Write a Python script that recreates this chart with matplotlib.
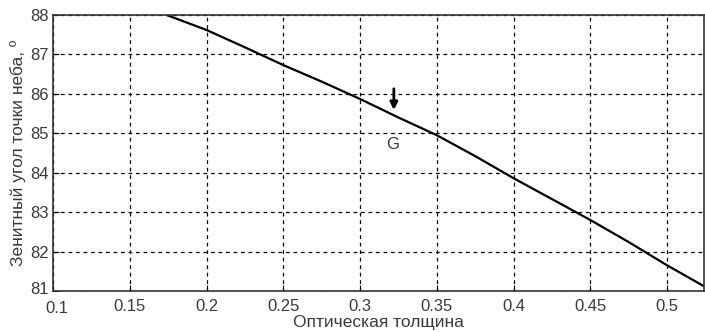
import matplotlib
matplotlib.use("Agg")
import matplotlib.pyplot as plt
import matplotlib.transforms as mtransforms
import numpy as np

plt.rcParams['font.family'] = ['Liberation Sans', 'DejaVu Sans']

# data
tau = [0.174, 0.2, 0.225, 0.25, 0.275, 0.3, 0.325, 0.35, 0.375, 0.4, 0.425, 0.45, 0.475, 0.5, 0.524]
zenith = [88.0, 87.62, 87.18, 86.73, 86.31, 85.87, 85.40, 84.95, 84.42, 83.86, 83.33, 82.80, 82.24, 81.65, 81.12]

xticks = [0.1, 0.15, 0.2, 0.25, 0.3, 0.35, 0.4, 0.45, 0.5]
xticklabels = ['0.1', '0.15', '0.2', '0.25', '0.3', '0.35', '0.4', '0.45', '0.5']
yticks = [81, 82, 83, 84, 85, 86, 87, 88]

fig = plt.figure(figsize=(7.05, 3.32), dpi=100)
ax = fig.add_axes([0.0752, 0.1235, 0.9234, 0.8313])
ax.plot(tau, zenith, color='black', lw=1.6)

ax.set_xlim(0.1, 0.524)
ax.set_ylim(81, 88)
ax.set_xticks(xticks)
ax.set_xticklabels(xticklabels)
ax.set_yticks(yticks)
ax.tick_params(direction='in', labelsize=12, length=4, color='black', labelcolor='#3a3a3a')
ax.tick_params(axis='x', pad=6)
ax.tick_params(axis='y', pad=3)
ax.grid(True, color='black', linestyle=(0, (3, 3)), lw=0.9)
for s in ax.spines.values():
    s.set_color('#333333')
    s.set_linewidth(1.2)

# MATLAB-like quirks for corner labels
lbl0 = ax.get_xticklabels()[0]
lbl0.set_transform(lbl0.get_transform() + mtransforms.ScaledTranslation(4/100, -2/100, fig.dpi_scale_trans))
lbly = ax.get_yticklabels()[0]
lbly.set_transform(lbly.get_transform() + mtransforms.ScaledTranslation(0, 3/100, fig.dpi_scale_trans))

ax.annotate('', xy=(0.322, 85.52), xytext=(0.322, 86.2),
            arrowprops=dict(arrowstyle='-|>', color='black', lw=2, mutation_scale=11))
ax.text(0.321, 84.72, 'G', ha='center', va='center', fontsize=12, color='#3a3a3a')

ax.set_xlabel('Оптическая толщина', fontsize=12.5, color='#3a3a3a', labelpad=-1)
ax.set_ylabel('Зенитный угол точки неба, º', fontsize=12.5, color='#3a3a3a', labelpad=3)

fig.savefig('out.png', dpi=100)
